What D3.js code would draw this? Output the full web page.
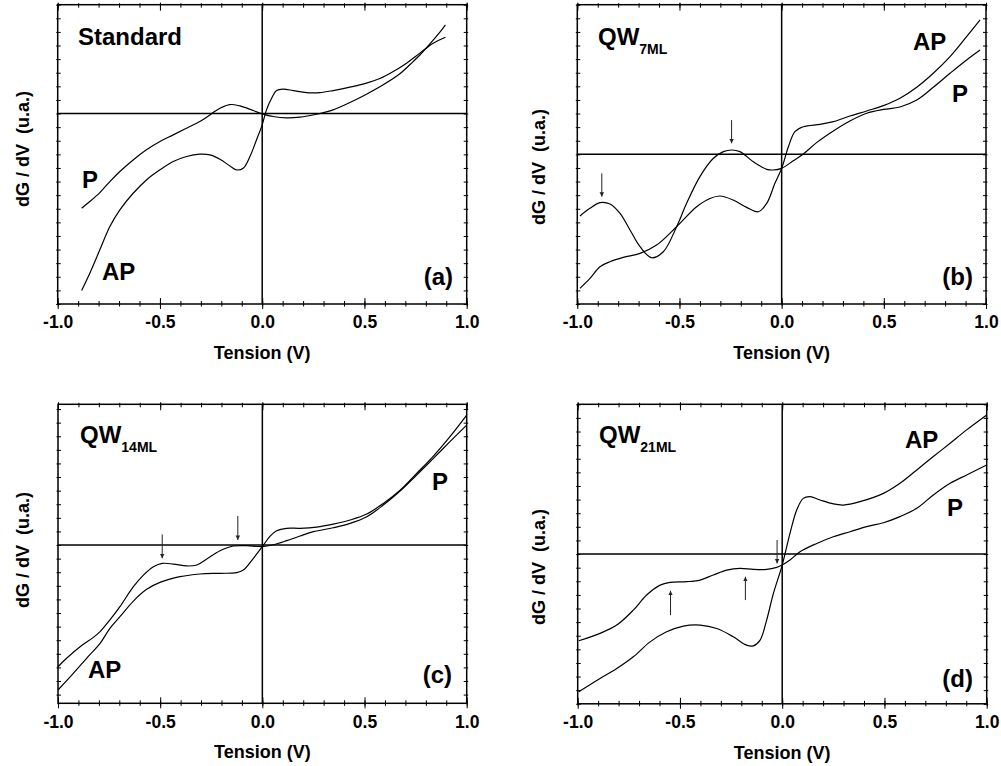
<!DOCTYPE html>
<html><head><meta charset="utf-8">
<script src="https://cdn.jsdelivr.net/npm/d3@7"></script>
<style>
body{margin:0;background:#fff;}
svg{display:block;font-family:"Liberation Sans",Arial,sans-serif;font-weight:bold;}
</style></head><body>
<svg id="chart" width="1001" height="766"></svg>
<script>
// ---------------- data (Tension in V, dG/dV in arbitrary units) ----------------
const tensionTicks = [-1.0, -0.5, 0.0, 0.5, 1.0];
const tensionMinor = d3.range(-10, 11).map(i => i / 10);

// (a) Standard
const stdP = [[-0.883,-6.96],[-0.843,-6.47],[-0.794,-5.81],[-0.745,-5.0],[-0.696,-4.26],[-0.631,-3.41],[-0.566,-2.67],[-0.500,-2.06],[-0.435,-1.57],[-0.370,-1.08],[-0.305,-0.59],[-0.256,-0.10],[-0.207,0.39],[-0.158,0.66],[-0.109,0.56],[-0.044,0.22],[0,-0.02],[0.054,-0.22],[0.119,-0.32],[0.184,-0.27],[0.266,-0.05],[0.347,0.27],[0.429,0.81],[0.510,1.42],[0.592,2.11],[0.673,2.92],[0.738,3.82],[0.771,4.3],[0.804,4.85],[0.836,5.4],[0.869,5.98],[0.896,6.52]];
const stdAP = [[-0.883,-13.01],[-0.843,-11.74],[-0.794,-10.02],[-0.745,-8.31],[-0.696,-7.08],[-0.631,-5.86],[-0.566,-4.88],[-0.500,-4.14],[-0.435,-3.53],[-0.370,-3.16],[-0.305,-2.99],[-0.256,-3.04],[-0.207,-3.36],[-0.158,-3.85],[-0.126,-4.14],[-0.093,-4.02],[-0.060,-3.16],[-0.028,-1.94],[0,-0.83],[0.021,0.27],[0.046,1.13],[0.070,1.69],[0.103,1.79],[0.152,1.69],[0.217,1.54],[0.282,1.54],[0.347,1.69],[0.429,1.94],[0.510,2.23],[0.575,2.57],[0.641,3.09],[0.706,3.70],[0.771,4.44],[0.836,5.17],[0.896,5.61]];

// (b) QW 7ML
const qw7P = [[-0.987,-4.53],[-0.938,-3.97],[-0.889,-3.55],[-0.840,-3.65],[-0.791,-4.34],[-0.742,-5.56],[-0.693,-6.79],[-0.636,-7.60],[-0.579,-7.16],[-0.514,-5.32],[-0.465,-3.60],[-0.400,-1.64],[-0.334,-0.29],[-0.285,0.20],[-0.245,0.32],[-0.204,0.20],[-0.139,-0.54],[-0.073,-1.10],[-0.041,-1.15],[0,-1.03],[0.057,-0.47],[0.106,0.02],[0.171,0.86],[0.253,1.72],[0.334,2.45],[0.416,3.02],[0.498,3.30],[0.579,3.48],[0.661,3.99],[0.742,4.93],[0.824,5.96],[0.905,6.94],[0.971,7.67]];
const qw7AP = [[-0.987,-9.85],[-0.938,-9.12],[-0.889,-8.26],[-0.840,-7.89],[-0.775,-7.57],[-0.693,-7.28],[-0.612,-6.67],[-0.514,-5.32],[-0.416,-3.85],[-0.351,-3.24],[-0.302,-3.06],[-0.237,-3.36],[-0.171,-3.90],[-0.114,-4.22],[-0.073,-3.60],[-0.033,-2.13],[0,-1.03],[0.033,0.56],[0.065,1.67],[0.106,2.03],[0.188,2.21],[0.253,2.40],[0.334,2.82],[0.416,3.19],[0.498,3.58],[0.579,4.12],[0.661,4.93],[0.742,5.96],[0.824,7.18],[0.905,8.65],[0.971,9.88]];

// (c) QW 14ML
const qw14P = [[-1.0,-8.95],[-0.958,-8.33],[-0.892,-7.48],[-0.827,-6.79],[-0.794,-6.37],[-0.746,-5.51],[-0.697,-4.53],[-0.631,-3.06],[-0.582,-2.21],[-0.533,-1.59],[-0.489,-1.35],[-0.436,-1.40],[-0.370,-1.54],[-0.321,-1.47],[-0.272,-1.03],[-0.207,-0.42],[-0.142,-0.07],[-0.077,-0.05],[0,-0.12],[0.054,0.02],[0.119,0.32],[0.184,0.66],[0.250,0.98],[0.347,1.27],[0.429,1.59],[0.511,2.08],[0.592,2.94],[0.674,3.97],[0.755,5.15],[0.837,6.37],[0.918,7.60],[1.0,8.82]];
const qw14AP = [[-1.0,-10.66],[-0.925,-9.44],[-0.860,-8.33],[-0.794,-7.23],[-0.746,-6.13],[-0.697,-5.27],[-0.631,-4.12],[-0.566,-3.26],[-0.501,-2.75],[-0.403,-2.33],[-0.305,-2.13],[-0.207,-2.08],[-0.126,-2.03],[-0.093,-1.84],[-0.044,-0.98],[0,-0.12],[0.038,0.66],[0.070,1.05],[0.119,1.23],[0.184,1.23],[0.266,1.32],[0.347,1.54],[0.429,1.84],[0.511,2.28],[0.592,3.06],[0.674,4.04],[0.755,5.27],[0.837,6.54],[0.918,7.97],[1.0,9.56]];

// (d) QW 21ML
const qw21P = [[-0.995,-6.37],[-0.891,-5.83],[-0.809,-5.22],[-0.728,-4.12],[-0.663,-3.01],[-0.597,-2.28],[-0.549,-2.08],[-0.467,-2.03],[-0.402,-1.91],[-0.337,-1.54],[-0.271,-1.18],[-0.206,-1.05],[-0.141,-1.13],[-0.076,-1.13],[-0.027,-0.98],[0,-0.81],[0.038,-0.44],[0.087,0.17],[0.169,0.78],[0.250,1.27],[0.332,1.64],[0.413,2.01],[0.495,2.30],[0.576,2.75],[0.658,3.36],[0.739,4.34],[0.821,5.20],[0.902,5.81],[1.0,6.54]];
const qw21AP = [[-0.995,-10.12],[-0.891,-9.14],[-0.809,-8.41],[-0.728,-7.55],[-0.646,-6.45],[-0.565,-5.71],[-0.483,-5.29],[-0.402,-5.22],[-0.320,-5.47],[-0.239,-6.08],[-0.174,-6.69],[-0.141,-6.74],[-0.108,-6.32],[-0.076,-4.85],[-0.043,-2.89],[0,-0.81],[0.038,1.52],[0.071,3.24],[0.103,4.09],[0.136,4.22],[0.185,3.97],[0.250,3.68],[0.299,3.60],[0.380,3.85],[0.495,4.46],[0.576,5.20],[0.658,6.18],[0.739,7.16],[0.821,8.14],[0.902,9.12],[1.0,10.22]];

// arrows: [V, from, tip]
const qw7Arrows  = [[-0.245, 2.52, 0.81], [-0.88, -1.40, -3.11]];
const qw14Arrows = [[-0.49, 0.78, -0.98], [-0.12, 2.13, 0.37]];
const qw21Arrows = [[-0.025, 1.03, -0.69], [-0.546, -4.49, -2.70], [-0.18, -3.38, -1.67]];

const titles = ["Standard", "QW", "QW", "QW"];
const subs = [null, "7ML", "14ML", "21ML"];
const letters = ["(a)", "(b)", "(c)", "(d)"];
const xTitle = "Tension (V)";
const yTitle = "dG / dV  (u.a.)";

// ---------------- layout ----------------
const panels = [
  {left:57.7, top:4.7, w:409, h:299.3, ydom:[-14, 8], P:stdP, AP:stdAP, arrows:[],
   title:[20.3,40.3], labP:[24.3,183.3], labAP:[44.3,275.3], letter:[395.3,280.3], ytx:[29,149]},
  {left:577.3, top:4.7, w:408.7, h:299.3, ydom:[-11, 11], P:qw7P, AP:qw7AP, arrows:qw7Arrows,
   title:[20.7,40.3], labP:[374.7,97.3], labAP:[335.7,45.3], letter:[395.7,280.3], ytx:[545,167]},
  {left:58, top:404.3, w:408.7, h:299, ydom:[-11.64, 10.35], P:qw14P, AP:qw14AP, arrows:qw14Arrows,
   title:[22,39], labP:[374,85.7], labAP:[30,274], letter:[394,278.7], ytx:[29,550]},
  {left:577.7, top:404.3, w:409, h:299.5, ydom:[-11, 11], P:qw21P, AP:qw21AP, arrows:qw21Arrows,
   title:[21.3,38.7], labP:[369.3,111.7], labAP:[327.3,43.7], letter:[395.3,282.7], ytx:[545,567]}
];

const svg = d3.select("#chart");
svg.append("defs").append("marker")
  .attr("id","ah").attr("viewBox","0 0 10 10").attr("refX",10).attr("refY",5)
  .attr("markerWidth",4.5).attr("markerHeight",5.5).attr("markerUnits","userSpaceOnUse")
  .attr("orient","auto")
  .append("path").attr("d","M0,0 L10,5 L0,10 Z").attr("fill","#222");

const fmt = d => d.toFixed(1);

panels.forEach((p, i) => {
  const g = svg.append("g").attr("transform", `translate(${p.left},${p.top})`);
  const x = d3.scaleLinear().domain([-1, 1]).range([0, p.w]);
  const y = d3.scaleLinear().domain(p.ydom).range([p.h, 0]);
  const yTicks = d3.range(Math.ceil(p.ydom[0]), Math.floor(p.ydom[1]) + 1);

  function ax(axisFn, vals, size, tx, ty, labels) {
    const a = axisFn.tickValues(vals).tickSizeOuter(0).tickSize(size);
    if (labels) a.tickFormat(fmt).tickPadding(7); else a.tickFormat("");
    const s = g.append("g").attr("transform", `translate(${tx},${ty})`).call(a);
    s.select(".domain").remove();
    s.selectAll("line").attr("stroke", "#000").attr("stroke-width", 1);
    s.selectAll("text").attr("font-size", 17.5).attr("font-weight", "bold")
      .attr("fill", "#000").attr("font-family", '"Liberation Sans",Arial,sans-serif');
    return s;
  }
  // bottom axis
  ax(d3.axisBottom(x), tensionTicks, 5, 0, p.h, true);
  ax(d3.axisBottom(x), tensionTicks, -6, 0, p.h, false);
  ax(d3.axisBottom(x), tensionMinor, 2.5, 0, p.h, false);
  ax(d3.axisBottom(x), tensionMinor, -3, 0, p.h, false);
  // top axis
  ax(d3.axisTop(x), tensionTicks, 2, 0, 0, false);
  ax(d3.axisTop(x), tensionTicks, -6, 0, 0, false);
  ax(d3.axisTop(x), tensionMinor, 1.5, 0, 0, false);
  ax(d3.axisTop(x), tensionMinor, -3, 0, 0, false);
  // left / right
  ax(d3.axisLeft(y), yTicks, 1.5, 0, 0, false);
  ax(d3.axisLeft(y), yTicks, -3, 0, 0, false);
  ax(d3.axisRight(y), yTicks, 1.5, p.w, 0, false);
  ax(d3.axisRight(y), yTicks, -3, p.w, 0, false);

  // frame
  g.append("rect").attr("x",0).attr("y",0).attr("width",p.w).attr("height",p.h)
    .attr("fill","none").attr("stroke","#000").attr("stroke-width",1.5);
  // zero lines
  g.append("line").attr("x1",0).attr("x2",p.w).attr("y1",y(0)).attr("y2",y(0))
    .attr("stroke","#000").attr("stroke-width",1.5);
  g.append("line").attr("x1",x(0)).attr("x2",x(0)).attr("y1",0).attr("y2",p.h)
    .attr("stroke","#000").attr("stroke-width",1.5);

  // curves
  const line = d3.line().x(d => x(d[0])).y(d => y(d[1])).curve(d3.curveCatmullRom.alpha(0.5));
  [p.P, p.AP].forEach(s => {
    g.append("path").datum(s).attr("d", line).attr("fill","none")
      .attr("stroke","#000").attr("stroke-width",1.2);
  });

  // arrows
  p.arrows.forEach(a => {
    g.append("line").attr("x1", x(a[0])).attr("x2", x(a[0]))
      .attr("y1", y(a[1])).attr("y2", y(a[2]))
      .attr("stroke","#222").attr("stroke-width",1).attr("marker-end","url(#ah)");
  });

  // labels
  const t = g.append("text").attr("x", p.title[0]).attr("y", p.title[1])
    .attr("font-size", 24).attr("fill","#000").text(titles[i]);
  if (subs[i]) {
    t.append("tspan").attr("font-size", 14).attr("dy", 8.7).text(subs[i]);
  }
  g.append("text").attr("x", p.labP[0]).attr("y", p.labP[1]).attr("font-size", 24).text("P");
  g.append("text").attr("x", p.labAP[0]).attr("y", p.labAP[1]).attr("font-size", 24).text("AP");
  g.append("text").attr("x", p.letter[0]).attr("y", p.letter[1]).attr("font-size", 24)
    .attr("text-anchor","end").text(letters[i]);

  // axis titles
  svg.append("text").attr("x", p.left + x(0)).attr("y", p.top + p.h + 55)
    .attr("text-anchor","middle").attr("font-size", 18).text(xTitle);
  svg.append("text").attr("transform", `translate(${p.ytx[0]},${p.ytx[1]}) rotate(-90)`)
    .attr("text-anchor","middle").attr("font-size", 18).attr("xml:space","preserve")
    .style("white-space","pre").text(yTitle);
});
</script>
</body></html>
